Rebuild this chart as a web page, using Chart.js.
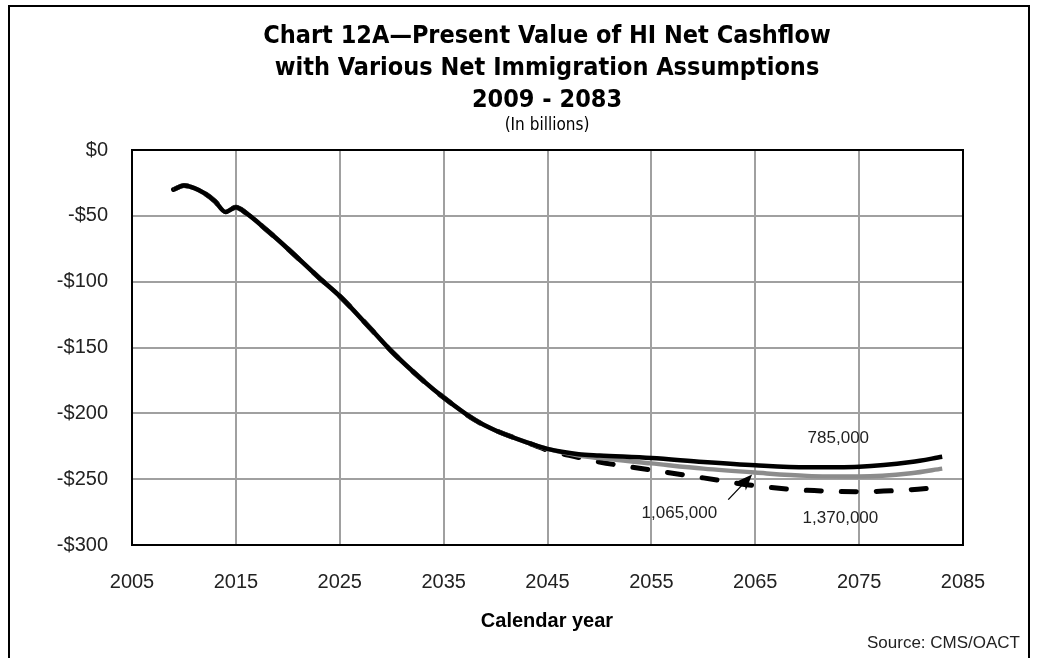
<!DOCTYPE html>
<html>
<head>
<meta charset="utf-8">
<script src="https://cdn.jsdelivr.net/npm/chart.js@4/dist/chart.umd.min.js"></script>
<style>
  html, body { margin: 0; padding: 0; background: #fff; }
  #wrap { width: 1037px; height: 658px; position: relative; }
</style>
</head>
<body>
<div id="wrap"><canvas id="grafico" width="1037" height="658"></canvas></div>
<script>
// present value of HI net cashflow, billions, by calendar year
const anos = [2009, 2010, 2011, 2012, 2013, 2014, 2015, 2016, 2018, 2020, 2023, 2025, 2028, 2030,
  2033, 2035, 2038, 2040, 2043, 2045, 2048, 2050, 2055, 2060, 2065, 2070, 2075, 2080, 2083];

const imig785 = [-30, -27, -29, -33, -39, -47, -43.5, -48, -61, -75, -97, -111, -136, -153,
  -175, -188, -205, -213, -222, -227, -231, -232, -234, -237, -239.5, -241, -240.5, -237, -233];

const imig1065 = [-30, -27, -29, -33, -39, -47, -43.5, -48, -61, -75, -97, -111, -136, -153,
  -175, -188, -205, -213, -222, -227, -232, -234, -238, -242, -245, -247.5, -248, -245.5, -242];

const imig1370 = [-30, -27, -29, -33, -39, -47, -43.5, -48, -61, -75, -97, -111, -136, -153,
  -175, -188, -205, -213, -222, -228, -233.5, -237, -243, -249, -255, -258.5, -259.5, -258, -256];

const tituloLinhas = [
  'Chart 12A\u2014Present Value of HI Net Cashflow',
  'with Various Net Immigration Assumptions',
  '2009 - 2083'
];
const subtitulo = '(In billions)';
const tituloX = 'Calendar year';
const fonte = 'Source: CMS/OACT';

// series labels placed next to the curves: [text, year, value]
const rotulos = [
  ['785,000', 2073, -219],
  ['1,065,000', 2057.7, -276],
  ['1,370,000', 2073.2, -279.5]
];
// arrow from the 1,065,000 label to its curve: [yearFrom, valueFrom, yearTo, valueTo]
const seta = [2062.4, -265.5, 2064.7, -246.5];

const narrow = '"Liberation Sans Narrow", "Arial Narrow", "DejaVu Sans Condensed", sans-serif';
const sans = '"Liberation Sans", Arial, sans-serif';

const pontos = (vals) => anos.map((a, i) => ({ x: a, y: vals[i] }));

const extras = {
  id: 'extras',
  beforeDraw(chart) {
    const ctx = chart.ctx;
    ctx.save();
    ctx.fillStyle = '#fff';
    ctx.fillRect(0, 0, chart.width, chart.height);
    ctx.restore();
  },
  afterDraw(chart) {
    const ctx = chart.ctx;
    const { left, right, top, bottom } = chart.chartArea;
    const sx = chart.scales.x, sy = chart.scales.y;
    ctx.save();

    // outer frame (open at the bottom)
    ctx.strokeStyle = '#000';
    ctx.lineWidth = 2;
    ctx.beginPath();
    ctx.moveTo(9, 658);
    ctx.lineTo(9, 6);
    ctx.lineTo(1029, 6);
    ctx.lineTo(1029, 658);
    ctx.stroke();

    // plot frame
    ctx.strokeRect(left, top, right - left, bottom - top);

    // titles
    ctx.fillStyle = '#000';
    ctx.textAlign = 'center';
    ctx.textBaseline = 'middle';
    ctx.font = 'bold 25px ' + narrow;
    tituloLinhas.forEach((t, i) => ctx.fillText(t, 547, 36 + i * 32));
    ctx.font = '17px ' + narrow;
    ctx.fillText(subtitulo, 547, 126);

    ctx.font = 'bold 20px ' + sans;
    ctx.fillText(tituloX, 547, 621);

    ctx.font = '17px ' + sans;
    ctx.textAlign = 'right';
    ctx.fillStyle = '#222';
    ctx.fillText(fonte, 1020, 643);

    // curve labels
    ctx.textAlign = 'center';
    ctx.font = '17px ' + sans;
    rotulos.forEach(([t, a, v]) => ctx.fillText(t, sx.getPixelForValue(a), sy.getPixelForValue(v)));

    // arrow
    const x0 = sx.getPixelForValue(seta[0]), y0 = sy.getPixelForValue(seta[1]);
    const x1 = sx.getPixelForValue(seta[2]), y1 = sy.getPixelForValue(seta[3]);
    const ang = Math.atan2(y1 - y0, x1 - x0);
    const c = Math.cos(ang), s = Math.sin(ang);
    ctx.strokeStyle = '#000';
    ctx.lineWidth = 1.3;
    ctx.beginPath();
    ctx.moveTo(x0, y0);
    ctx.lineTo(x1 - 8 * c, y1 - 8 * s);
    ctx.stroke();
    ctx.fillStyle = '#000';
    ctx.beginPath();
    ctx.moveTo(x1, y1);
    ctx.lineTo(x1 - 16 * c + 6.5 * s, y1 - 16 * s - 6.5 * c);
    ctx.lineTo(x1 - 11 * c, y1 - 11 * s);
    ctx.lineTo(x1 - 16 * c - 6.5 * s, y1 - 16 * s + 6.5 * c);
    ctx.closePath();
    ctx.fill();

    ctx.restore();
  }
};

const grade = { color: '#a0a0a0', lineWidth: 2, drawTicks: false };

new Chart(document.getElementById('grafico'), {
  type: 'line',
  data: {
    datasets: [
      {
        label: '1,370,000',
        data: pontos(imig1370),
        borderColor: '#000',
        borderWidth: 5,
        borderDash: [15, 20],
        borderCapStyle: 'round',
        cubicInterpolationMode: 'monotone',
        pointRadius: 0,
        order: 3
      },
      {
        label: '1,065,000',
        data: pontos(imig1065),
        borderColor: '#8c8c8c',
        borderWidth: 4.5,
        cubicInterpolationMode: 'monotone',
        pointRadius: 0,
        order: 2
      },
      {
        label: '785,000',
        data: pontos(imig785),
        borderColor: '#000',
        borderWidth: 4.5,
        cubicInterpolationMode: 'monotone',
        pointRadius: 0,
        order: 1
      }
    ]
  },
  options: {
    responsive: false,
    animation: false,
    events: [],
    layout: { padding: { left: 52, top: 150, right: 74, bottom: 63 } },
    plugins: { legend: { display: false }, tooltip: { enabled: false } },
    scales: {
      x: {
        type: 'linear',
        min: 2005,
        max: 2085,
        grid: grade,
        border: { display: false },
        ticks: {
          stepSize: 10,
          padding: 25,
          color: '#222',
          font: { family: sans, size: 20 },
          callback: (v) => String(v)
        },
        afterFit: (s) => { s.height = 50; }
      },
      y: {
        min: -300,
        max: 0,
        grid: grade,
        border: { display: false },
        ticks: {
          stepSize: 50,
          padding: 24,
          color: '#222',
          font: { family: sans, size: 20 },
          callback: (v) => (v === 0 ? '$0' : '-$' + Math.abs(v))
        },
        afterFit: (s) => { s.width = 80; }
      }
    }
  },
  plugins: [extras]
});
</script>
</body>
</html>
